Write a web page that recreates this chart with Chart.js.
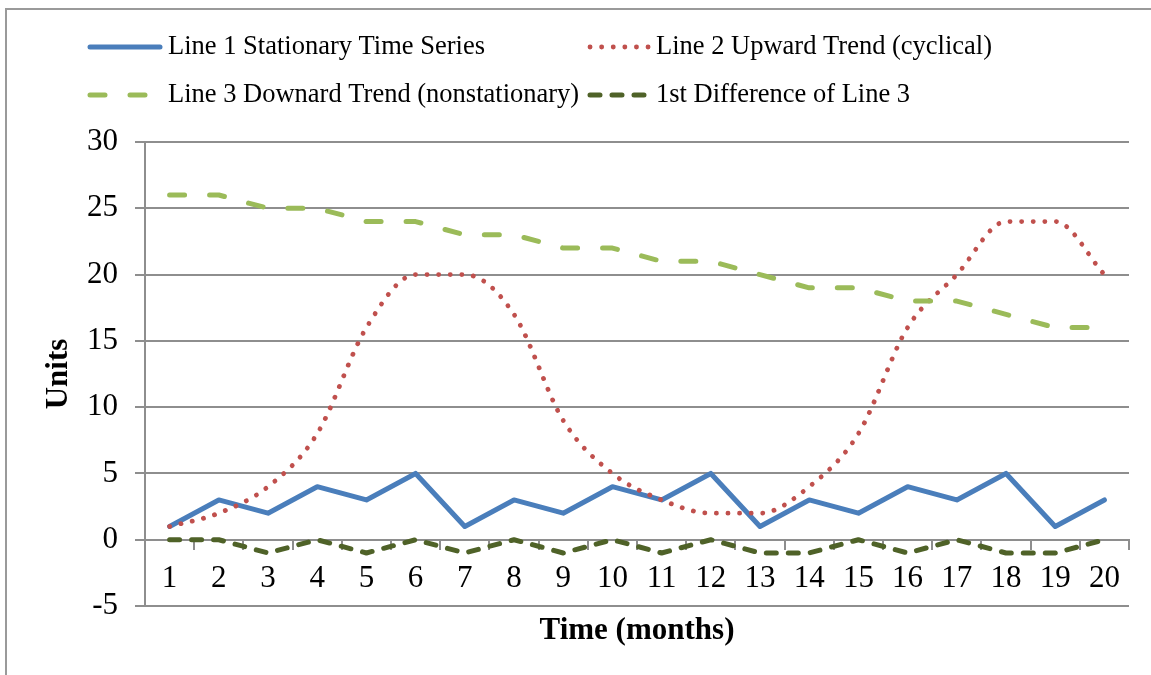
<!DOCTYPE html>
<html>
<head>
<meta charset="utf-8">
<script src="https://cdn.jsdelivr.net/npm/chart.js@4.4.1/dist/chart.umd.min.js"></script>
<style>
  html, body { margin: 0; padding: 0; background: #ffffff; }
  #wrap { position: relative; width: 1151px; height: 675px; overflow: hidden; background: #ffffff; }
  #frame { position: absolute; left: 5px; top: 8px; width: 2000px; height: 2000px;
           border-left: 2px solid #9a9a9a; border-top: 2px solid #9a9a9a; }
  #c { position: absolute; left: 0; top: 0; }
</style>
</head>
<body>
<div id="wrap">
  <div id="frame"></div>
  <canvas id="c" width="1151" height="675"></canvas>
</div>
<script>
// Months on the category axis
const months = ['1','2','3','4','5','6','7','8','9','10','11','12','13','14','15','16','17','18','19','20'];

// Series values
const stationary      = [1, 3, 2, 4, 3, 5, 1, 3, 2, 4, 3, 5, 1, 3, 2, 4, 3, 5, 1, 3];
const upwardCyclical  = [1, 2, 4, 8, 16, 20, 20, 17, 9, 5, 3, 2, 2, 4, 8, 16, 20, 24, 24, 20];
const downward        = [26, 26, 25, 25, 24, 24, 23, 23, 22, 22, 21, 21, 20, 19, 19, 18, 18, 17, 16, 16];
const firstDifference = [0, 0, -1, 0, -1, 0, -1, 0, -1, 0, -1, 0, -1, -1, 0, -1, 0, -1, -1, 0];

// Series names
const seriesNames = [
  'Line 1 Stationary Time Series',
  'Line 2 Upward Trend (cyclical)',
  'Line 3 Downard Trend (nonstationary)',
  '1st Difference of Line 3'
];

// Value axis range
const yMin = -5, yMax = 30, yStep = 5;

const SERIF = '"Liberation Serif", "Times New Roman", serif';
const GRID = '#8e8e8e';

// Two-column legend, drawn from the datasets' own line styles
const gridLegend = {
  id: 'gridLegend',
  afterDraw(chart, args, opts) {
    const ctx = chart.ctx;
    chart.data.datasets.forEach((ds, i) => {
      const col = i % 2, row = Math.floor(i / 2);
      const x = opts.cols[col], y = opts.rows[row];
      ctx.save();
      ctx.strokeStyle = ds.borderColor;
      ctx.lineWidth = ds.borderWidth;
      ctx.lineCap = ds.borderCapStyle || 'butt';
      ctx.setLineDash(ds.borderDash || []);
      ctx.beginPath();
      ctx.moveTo(x, y);
      ctx.lineTo(x + opts.sampleLength[i], y);
      ctx.stroke();
      ctx.setLineDash([]);
      ctx.fillStyle = '#000';
      ctx.font = opts.font;
      ctx.textAlign = 'left';
      ctx.textBaseline = 'middle';
      ctx.fillText(ds.label, x + opts.textOffset[col], y);
      ctx.restore();
    });
  }
};

// Category axis title, centred under the plot area
const bottomTitle = {
  id: 'bottomTitle',
  afterDraw(chart, args, opts) {
    const { ctx, chartArea } = chart;
    ctx.save();
    ctx.fillStyle = '#000';
    ctx.font = opts.font;
    ctx.textAlign = 'center';
    ctx.textBaseline = 'middle';
    ctx.fillText(opts.text, (chartArea.left + chartArea.right) / 2, chartArea.bottom + opts.offset);
    ctx.restore();
  }
};

new Chart(document.getElementById('c'), {
  type: 'line',
  data: {
    labels: months,
    datasets: [
      {
        label: seriesNames[0], data: stationary,
        borderColor: '#4a7ebb', borderWidth: 5, borderCapStyle: 'round', borderJoinStyle: 'round',
        tension: 0, pointRadius: 0, order: 4
      },
      {
        label: seriesNames[1], data: upwardCyclical,
        borderColor: '#c0504d', borderWidth: 4.8, borderCapStyle: 'round', borderJoinStyle: 'round',
        borderDash: [0.1, 11.5], cubicInterpolationMode: 'monotone', pointRadius: 0, order: 3
      },
      {
        label: seriesNames[2], data: downward,
        borderColor: '#9bbb59', borderWidth: 5, borderCapStyle: 'round', borderJoinStyle: 'round',
        borderDash: [15, 25], tension: 0, pointRadius: 0, order: 2
      },
      {
        label: seriesNames[3], data: firstDifference,
        borderColor: '#4f6228', borderWidth: 5, borderCapStyle: 'round', borderJoinStyle: 'round',
        borderDash: [10, 12], tension: 0, pointRadius: 0, order: 1
      }
    ]
  },
  options: {
    responsive: false,
    animation: false,
    devicePixelRatio: 1,
    layout: { padding: { top: 142, right: 22, bottom: 69, left: 0 } },
    plugins: {
      legend: { display: false },
      tooltip: { enabled: false },
      gridLegend: {
        cols: [90, 590],
        rows: [47, 95],
        sampleLength: [70, 60, 58, 58],
        textOffset: [78, 66],
        font: '26.5px ' + SERIF
      },
      bottomTitle: {
        text: 'Time (months)',
        font: 'bold 31px ' + SERIF,
        offset: 25
      }
    },
    scales: {
      x: {
        type: 'category',
        position: { y: 0 },
        offset: true,
        grid: {
          offset: true, drawOnChartArea: false, drawTicks: true,
          tickLength: 9, color: GRID, lineWidth: 2
        },
        border: { display: true, color: GRID, width: 2 },
        ticks: {
          color: '#000', font: { family: SERIF, size: 31 },
          padding: 12, maxRotation: 0, autoSkip: false
        }
      },
      y: {
        position: 'left',
        min: yMin, max: yMax,
        afterFit(scale) { scale.width = 145; },
        grid: { color: GRID, lineWidth: 2, drawTicks: true, tickLength: 10 },
        border: { display: true, color: GRID, width: 2 },
        ticks: {
          stepSize: yStep, color: '#000',
          font: { family: SERIF, size: 31 }, padding: 17
        },
        title: {
          display: true, text: 'Units', color: '#000',
          font: { family: SERIF, size: 31, weight: 'bold' },
          padding: { top: 40, bottom: 0 }
        }
      }
    }
  },
  plugins: [gridLegend, bottomTitle]
});
</script>
</body>
</html>
